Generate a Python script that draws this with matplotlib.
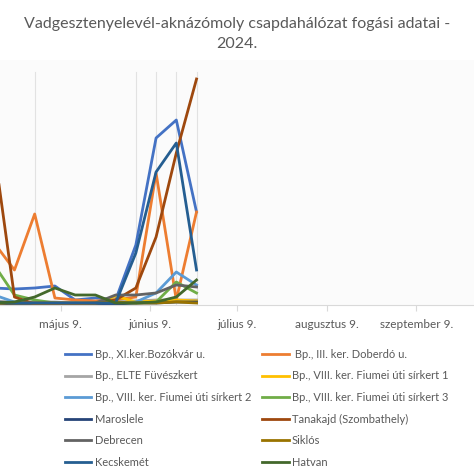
import datetime as dt
import matplotlib
matplotlib.use("Agg")
import matplotlib.pyplot as plt

plt.rcParams['font.family'] = ['Lato', 'DejaVu Sans']

dates = [dt.date(2024, 4, 16) + dt.timedelta(days=7 * k) for k in range(11)]

bozokvar = [17, 16, 17, 19, 5, 7, 5, 60, 167, 185, 93]
doberdo = [62, 35, 91, 7, 5, 4, 5, 8, 132, 5, 93]
elte = [4, 3, 3, 3, 2, 2, 3, 4, 5, 5, 5]
fiumei1 = [1, 1, 1, 1, 1, 1, 9, 3, 4, 5, 4]
fiumei2 = [10, 3, 2, 2, 2, 1, 2, 3, 12, 33, 20]
fiumei3 = [40, 10, 5, 2, 1, 1, 2, 2, 3, 23, 12]
maroslele = [2, 1, 1, 1, 1, 1, 1, 2, 2, 3, 3]
tanakajd = [155, 8, 1, 1, 1, 2, 5, 17, 68, 152, 226]
debrecen = [3, 2, 2, 2, 2, 2, 10, 10, 12, 20, 18]
siklos = [2, 2, 2, 2, 2, 2, 3, 2, 2, 3, 2]
kecskemet = [3, 2, 2, 2, 2, 2, 2, 52, 133, 162, 35]
hatvan = [2, 3, 8, 17, 10, 10, 2, 2, 3, 8, 25]

series = [
    ("Bp., XI.ker.Bozókvár u.", bozokvar, "#4472C4"),
    (" Bp., III. ker. Doberdó u.", doberdo, "#ED7D31"),
    ("Bp., ELTE Füvészkert", elte, "#A5A5A5"),
    ("Bp., VIII. ker. Fiumei úti sírkert 1", fiumei1, "#FFC000"),
    ("Bp., VIII. ker. Fiumei úti sírkert 2", fiumei2, "#5B9BD5"),
    ("Bp., VIII. ker. Fiumei úti sírkert 3", fiumei3, "#70AD47"),
    ("Maroslele", maroslele, "#264478"),
    ("Tanakajd (Szombathely)", tanakajd, "#9E480E"),
    ("Debrecen", debrecen, "#636363"),
    ("Siklós", siklos, "#997300"),
    ("Kecskemét", kecskemet, "#255E91"),
    ("Hatvan", hatvan, "#43682B"),
]

fig = plt.figure(figsize=(4.74, 4.74), dpi=100)
ax = fig.add_axes([0, 1 - 305 / 474, 1, 245 / 474])
ax.set_facecolor('#fbfbfb')

for label, vals, col in series:
    ax.plot(dates, vals, color=col, lw=2, label=label)

# faint drop lines like in the original
for i in [2, 7, 8, 9, 10]:
    ax.axvline(dates[i], ymax=0.95, color='#e2e2e2', lw=0.8, zorder=0)

ax.set_ylim(0, 245)
ax.set_xlim(dt.date(2024, 4, 18), dt.date(2024, 9, 29))
ticks = [dt.date(2024, m, 9) for m in range(5, 10)]
ax.set_xticks(ticks)
ax.set_xticklabels(['május 9.', 'június 9.', 'július 9.', 'augusztus 9.', 'szeptember 9.'])
ax.tick_params(axis='x', colors='#595959', labelsize=8.5, length=4, color='#d9d9d9', pad=6)
ax.set_yticks([])
for s in ['top', 'right', 'left']:
    ax.spines[s].set_visible(False)
ax.spines['bottom'].set_color('#d9d9d9')

fig.text(0.5, 0.965, 'Vadgesztenyelevél-aknázómoly csapdahálózat fogási adatai -\n2024.',
         ha='center', va='top', fontsize=11.5, color='#595959', linespacing=1.55)

# row-wise order: matplotlib fills legend columns first
h, l = ax.get_legend_handles_labels()
h = h[0::2] + h[1::2]
l = l[0::2] + l[1::2]
fig.legend(h, l, ncol=2, loc='upper left', bbox_to_anchor=(0.115, 0.285), frameon=False,
           fontsize=8, labelcolor='#595959', handlelength=2.4, handletextpad=0.3,
           columnspacing=1.0, labelspacing=0.95)

fig.savefig('out.png', dpi=100)
